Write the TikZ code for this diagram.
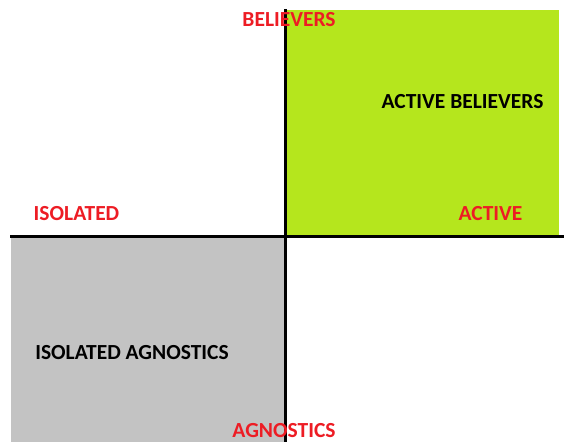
\documentclass[tikz,border=0pt]{standalone}
\usepackage{fontspec}
\setmainfont{Carlito}
\definecolor{lime}{RGB}{181,230,29}
\definecolor{quadgrey}{RGB}{195,195,195}
\definecolor{axisred}{RGB}{237,28,36}
\begin{document}
\begin{tikzpicture}[x=1pt,y=-1pt,
  axislabel/.style={text=axisred,font=\bfseries\fontsize{21.5}{24}\selectfont,inner sep=0pt},
  quadlabel/.style={text=black,font=\bfseries\fontsize{21.5}{24}\selectfont,inner sep=0pt},
  axis/.style={line width=3pt}]
\useasboundingbox (0,0) rectangle (564,442);
% quadrant fills
\fill[lime] (286,10) rectangle (559,236);
\fill[quadgrey] (11,236) rectangle (286,442);
% axes
\coordinate (top) at (285.5,9);
\coordinate (bottom) at (285.5,442);
\coordinate (left) at (10,236);
\coordinate (right) at (564,236);
\draw[axis] (top) -- (bottom);
\draw[axis] (left) -- (right);
% labels
\node[axislabel] (believers) at (289,20) {BELIEVERS};
\node[axislabel] (agnostics) at (284,431) {AGNOSTICS};
\node[axislabel] (isolated) at (76.5,214) {ISOLATED};
\node[axislabel] (active) at (490.5,214) {ACTIVE};
\node[quadlabel] (ab) at (462.5,102) {ACTIVE BELIEVERS};
\node[quadlabel] (ia) at (132,353) {ISOLATED AGNOSTICS};
\end{tikzpicture}
\end{document}
